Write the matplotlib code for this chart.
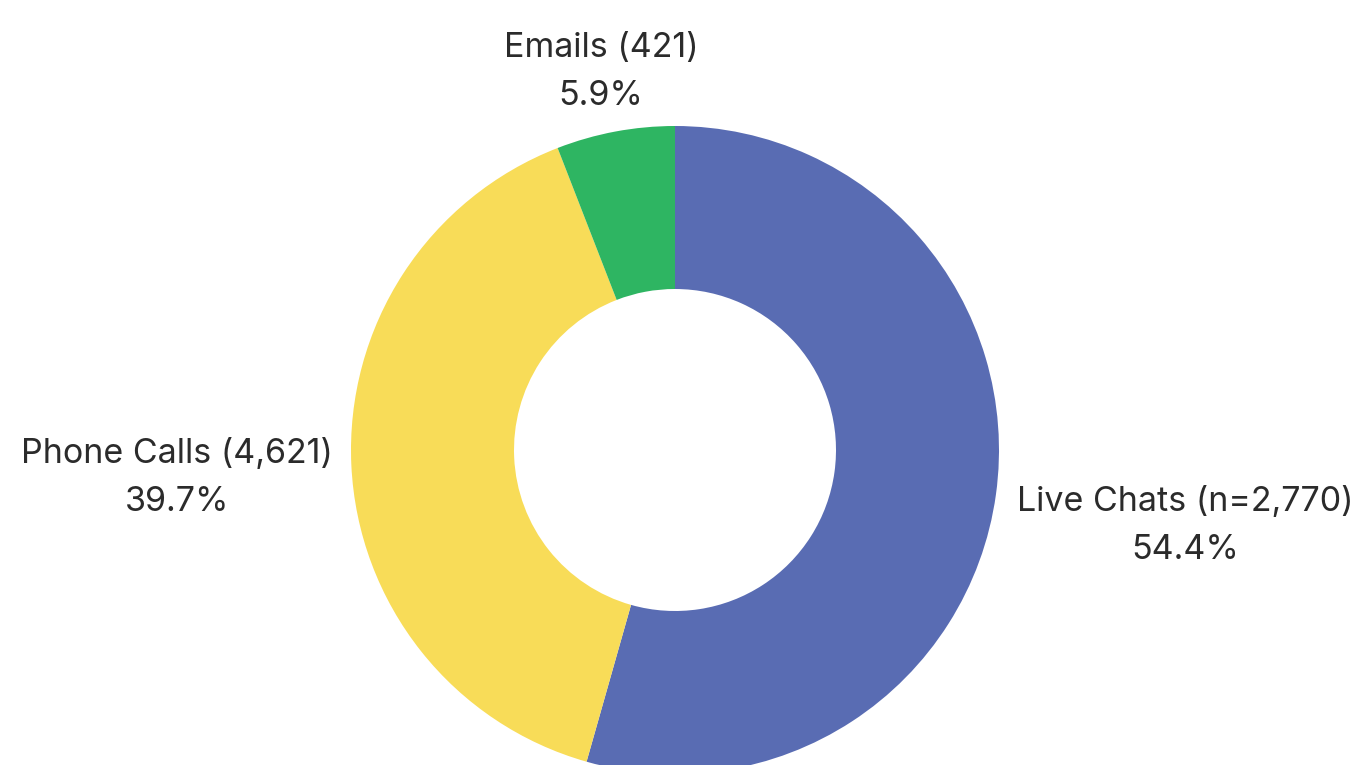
import matplotlib
matplotlib.use("Agg")
import matplotlib.pyplot as plt

categories = ["Live Chats (n=2,770)", "Phone Calls (4,621)", "Emails (421)"]
shares = [54.4, 39.7, 5.9]
pct_labels = ["54.4%", "39.7%", "5.9%"]
colors = ["#596CB3", "#F8DC58", "#2EB562"]

W, H = 1356, 765
fig = plt.figure(figsize=(W / 100, H / 100), dpi=100)
ax = fig.add_axes([0, 0, 1, 1])
ax.set_xlim(0, W)
ax.set_ylim(0, H)
ax.set_aspect("equal")
ax.axis("off")

cx, cy = 675, H - 450
R = 324
ax.pie(shares, colors=colors, startangle=90, counterclock=False,
       center=(cx, cy), radius=R,
       wedgeprops=dict(width=R - 161, linewidth=0))
ax.set_xlim(0, W)
ax.set_ylim(0, H)

# label anchor positions (pixel coords from top-left) and alignment
label_pos = [(1185, 526, "center"), (177, 478, "center"), (601, 72, "center")]
font = "Inter"
for cat, pct, (lx, ly, ha) in zip(categories, pct_labels, label_pos):
    ax.text(lx, H - ly, cat + "\n" + pct, ha=ha, va="center",
            fontsize=24.5, color="#2B2B2B", family=[font, "DejaVu Sans"],
            linespacing=1.62)

fig.savefig("out.png", dpi=100)
